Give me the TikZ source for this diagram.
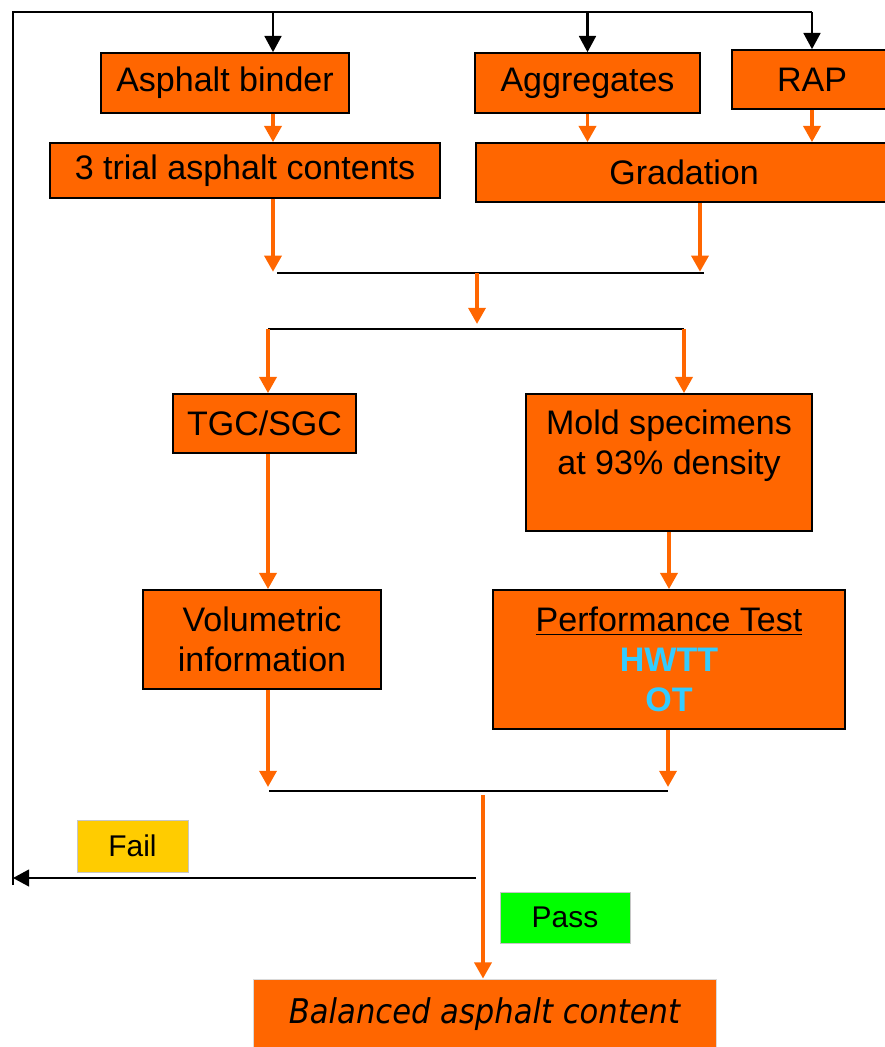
\documentclass[tikz,border=0pt]{standalone}
\usepackage{fontspec}
\setmainfont{Liberation Sans}
\newfontfamily\balfont[FakeStretch=0.9]{DejaVu Sans}
\usetikzlibrary{arrows.meta}
\definecolor{boxorange}{HTML}{FF6600}
\definecolor{failyellow}{HTML}{FFCC00}
\definecolor{passgreen}{HTML}{00FF00}
\definecolor{testblue}{HTML}{33CCFF}
\tikzset{
  stepbox/.style={draw=black, line width=1.2pt, fill=boxorange, inner sep=0pt, align=center,
    font=\fontsize{24.2}{28.5}\selectfont},
  flow/.style={draw=boxorange, line width=2.7pt, -{Triangle[length=11.5pt,width=12pt]}},
  feed/.style={draw=black, line width=1.5pt, -{Triangle[length=11.5pt,width=12pt]}},
  joint/.style={draw=black, line width=1.5pt},
  verdict/.style={draw=gray!45, line width=0.6pt, inner sep=0pt, font=\fontsize{21.3}{24}\selectfont}
}
\begin{document}
\begin{tikzpicture}
        \useasboundingbox (0,0) rectangle (22.1,-26.175);

        \node[stepbox, minimum width=6.2cm, minimum height=1.5cm] (binder) at (5.625,-2.075) {Asphalt binder};
        \node[stepbox, minimum width=9.75cm, minimum height=1.375cm] (trial) at (6.125,-4.2625) {3 trial asphalt contents};
        \node[stepbox, minimum width=5.625cm, minimum height=1.5cm] (aggr) at (14.6875,-2.075) {Aggregates};
        \node[stepbox, minimum width=4cm, minimum height=1.475cm] (rap) at (20.3,-1.9875) {RAP};
        \node[stepbox, minimum width=10.4cm, minimum height=1.475cm] (grad) at (17.1,-4.3125) {Gradation};
        \node[stepbox, minimum width=4.575cm, minimum height=1.475cm] (tgc) at (6.6125,-10.5875) {TGC/SGC};
        \node[stepbox, minimum width=7.15cm, minimum height=3.425cm] (mold) at (16.725,-11.5625) {Mold specimens\\at 93\% density\\\mbox{}};
        \node[stepbox, minimum width=5.95cm, minimum height=2.475cm] (vol) at (6.55,-15.9875) {Volumetric\\information};
        \node[stepbox, minimum width=8.8cm, minimum height=3.475cm] (perf) at (16.725,-16.4875)
          {\underline{Performance Test}\\\textcolor{testblue}{\bfseries HWTT}\\\textcolor{testblue}{\bfseries OT}};
        \node[stepbox, draw=gray!30, line width=0.6pt, minimum width=11.575cm, minimum height=1.775cm,
          font={\balfont\itshape\fontsize{24.2}{28.5}\selectfont}] (bal) at (12.1125,-25.3625) {Balanced asphalt content};
        \node[verdict, fill=failyellow, minimum width=2.775cm, minimum height=1.3cm] (fail) at (3.3125,-21.15) {Fail};
        \node[verdict, fill=passgreen, minimum width=3.25cm, minimum height=1.275cm] (pass) at (14.125,-22.9375) {Pass};

        \coordinate (topL) at (0.325,-0.3);
        \coordinate (binin) at (6.825,-0.3);
        \coordinate (gradout) at ([xshift=0.4cm]grad.south);
        \coordinate (m1a) at (6.925,-6.825);
        \coordinate (m1b) at (17.6,-6.825);
        \coordinate (m1c) at (11.925,-6.825);
        \coordinate (m2a) at (6.7,-8.225);
        \coordinate (m2b) at (17.1,-8.225);
        \coordinate (m2c) at (11.925,-8.1);
        \coordinate (m3a) at (6.725,-19.775);
        \coordinate (m3b) at (16.7,-19.775);
        \coordinate (m3c) at (12.075,-19.875);
        \coordinate (failR) at (11.9,-21.95);

        \draw[joint] (0.325,-22.125) -- (topL) -- (rap.north |- topL);
        \draw[feed] (binin) -- (binin |- binder.north);
        \draw[feed] (aggr.north |- topL) -- (aggr.north);
        \draw[feed] (rap.north |- topL) -- (rap.north);

        \draw[flow] (binin |- binder.south) -- (binin |- trial.north);
        \draw[flow] (aggr.south) -- (aggr.south |- grad.north);
        \draw[flow] (rap.south) -- (rap.south |- grad.north);
        \draw[flow] (binin |- trial.south) -- ([yshift=0.03cm]binin |- m1a);
        \draw[flow] (gradout) -- ([yshift=0.03cm]gradout |- m1a);
        \draw[joint] (m1a) -- (m1b);
        \draw[flow] (m1c) -- (m2c);
        \draw[joint] (m2a) -- (m2b);
        \draw[flow] (m2a) -- (m2a |- tgc.north);
        \draw[flow] (m2b) -- (m2b |- mold.north);
        \draw[flow] (m2a |- tgc.south) -- (m2a |- vol.north);
        \draw[flow] (mold.south) -- (mold.south |- perf.north);
        \draw[flow] (m2a |- vol.south) -- ([yshift=0.1cm]m2a |- m3a);
        \draw[flow] (m3b |- perf.south) -- ([yshift=0.1cm]m3b);
        \draw[joint] (m3a) -- (m3b);
        \draw[flow] (m3c) -- (m3c |- bal.north);
        \draw[feed] (failR) -- (failR -| topL);
        \end{tikzpicture}
\end{document}
